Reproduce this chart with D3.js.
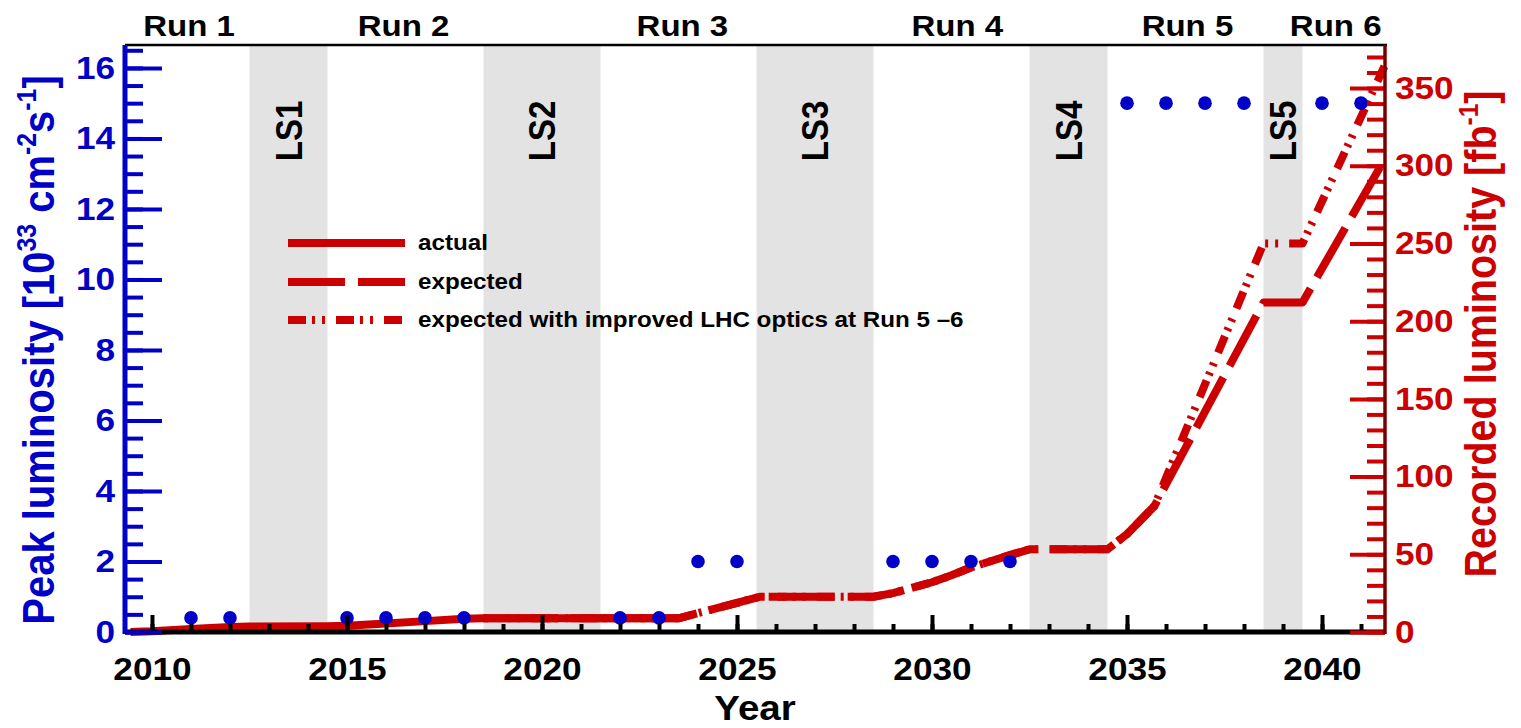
<!DOCTYPE html>
<html>
<head>
<meta charset="utf-8">
<script src="https://cdn.jsdelivr.net/npm/d3@7"></script>
<style>
  html, body { margin: 0; padding: 0; background: #fff; }
  svg text { font-family: "Liberation Sans", Arial, Helvetica, sans-serif; font-weight: bold; }
</style>
</head>
<body>
<svg id="chart" width="1521" height="728"></svg>
<script>
// ---- data ----
const runNames   = ["Run 1", "Run 2", "Run 3", "Run 4", "Run 5", "Run 6"];
const runCenters = [2010.95, 2016.45, 2023.6, 2030.65, 2036.55, 2040.35];

const shutdownNames = ["LS1", "LS2", "LS3", "LS4", "LS5"];
const shutdownStart = [2012.5, 2018.5, 2025.5, 2032.5, 2038.5];
const shutdownEnd   = [2014.5, 2021.5, 2028.5, 2034.5, 2039.5];

// peak instantaneous luminosity per year [10^33 cm^-2 s^-1]
const peakYears = [2011, 2012, 2015, 2016, 2017, 2018, 2022, 2023, 2024, 2025,
                   2029, 2030, 2031, 2032, 2035, 2036, 2037, 2038, 2040, 2041];
const peakLumi  = [0.4, 0.4, 0.4, 0.4, 0.4, 0.4, 0.4, 0.4, 2, 2,
                   2, 2, 2, 2, 15, 15, 15, 15, 15, 15];

// integrated recorded luminosity [fb^-1]
const actualYears = [2009.45, 2010, 2011, 2012, 2012.5, 2014.5, 2015, 2016, 2017, 2018, 2018.5, 2023.5];
const actualLumi  = [0, 0.5, 2.0, 3.2, 3.5, 3.7, 4.0, 5.5, 7.0, 8.5, 8.8, 8.8];

const expectedYears = [2018.5, 2023.5, 2025.6, 2028.5, 2029, 2029.5, 2030, 2030.5, 2031, 2031.5, 2032, 2032.5,
                       2034.5, 2035, 2035.7, 2038.5, 2039.5, 2041.6];
const expectedLumi  = [8.8, 8.8, 22.7, 22.7, 25, 28.5, 32, 36.5, 41.5, 45.5, 49.5, 53.2,
                       53.2, 63, 81, 212, 212, 304];

const improvedYears = [2018.5, 2023.5, 2025.6, 2028.5, 2029, 2029.5, 2030, 2030.5, 2031, 2031.5, 2032, 2032.5,
                       2034.5, 2035, 2035.7, 2038.5, 2039.5, 2041.6];
const improvedLumi  = [8.8, 8.8, 22.7, 22.7, 25, 28.5, 32, 36.5, 41.5, 45.5, 49.5, 53.2,
                       53.2, 63, 81, 250, 250, 364];

const legendLabels = ["actual", "expected", "expected with improved LHC optics at Run 5 \u20136"];

const yearMajorTicks = d3.range(2010, 2041, 5);
const yearMinorTicks = d3.range(2010, 2042, 1);
const peakMajorTicks = d3.range(0, 16.01, 2);
const peakMinorTicks = d3.range(0, 16.51, 0.5);
const recMajorTicks  = d3.range(0, 351, 50);
const recMinorTicks  = d3.range(0, 371, 10);

// ---- layout ----
const plotL = 125, plotR = 1385, plotT = 45, plotB = 632;
const SX = 1.1;               // horizontal stretch applied to all lettering
const BLUE = "#0000c8", RED = "#cc0000", DARKRED = "#7a0000", BAND = "#e3e3e3";

const svg = d3.select("#chart");

const x  = d3.scaleLinear().domain([2009.308, 2041.615]).range([plotL, plotR]);
const yL = d3.scaleLinear().domain([0, 16.65]).range([plotB, plotT]);
const yR = d3.scaleLinear().domain([0, 377.7]).range([plotB, plotT]);

const zip = (a, b) => a.map((v, i) => [v, b[i]]);

// long shutdown bands
const shutdowns = shutdownNames.map((n, i) => ({ name: n, s: shutdownStart[i], e: shutdownEnd[i] }));
svg.append("g").selectAll("rect").data(shutdowns).join("rect")
  .attr("x", d => x(d.s)).attr("y", plotT)
  .attr("width", d => x(d.e) - x(d.s)).attr("height", plotB - plotT)
  .attr("fill", BAND);

svg.append("g").selectAll("text").data(shutdowns).join("text")
  .attr("transform", d => `translate(${(x(d.s) + x(d.e)) / 2},131) scale(${SX},1) rotate(-90)`)
  .attr("text-anchor", "middle").attr("dy", "0.36em")
  .attr("font-size", 33).attr("fill", "#000")
  .text(d => d.name);

// top frame line
svg.append("line")
  .attr("x1", plotL).attr("x2", plotR + 2).attr("y1", plotT).attr("y2", plotT)
  .attr("stroke", "#000").attr("stroke-width", 2.5);

// run labels
svg.append("g").selectAll("text").data(runNames).join("text")
  .attr("transform", (d, i) => `translate(${x(runCenters[i])},36) scale(${SX},1)`)
  .attr("text-anchor", "middle").attr("font-size", 30).attr("fill", "#000")
  .text(d => d);

// recorded luminosity curves
const line = d3.line().x(d => x(d[0])).y(d => yR(d[1]));
const styles = [
  { dash: null, offset: 0 },
  { dash: "57,13", offset: 53 },
  { dash: "18,6,3,7,3,11", offset: 0 }
];
const curves = [zip(actualYears, actualLumi), zip(expectedYears, expectedLumi), zip(improvedYears, improvedLumi)];

svg.append("g").selectAll("path").data(curves).join("path")
  .attr("d", line)
  .attr("fill", "none").attr("stroke", RED).attr("stroke-width", 8)
  .attr("stroke-linejoin", "round")
  .attr("stroke-dasharray", (d, i) => styles[i].dash)
  .attr("stroke-dashoffset", (d, i) => styles[i].offset);

// legend
const legendY = [243, 282, 320];
const lg = svg.append("g");
legendLabels.forEach((lab, i) => {
  lg.append("line")
    .attr("x1", 288).attr("x2", 405).attr("y1", legendY[i]).attr("y2", legendY[i])
    .attr("stroke", RED).attr("stroke-width", 8)
    .attr("stroke-dasharray", styles[i].dash);
  lg.append("text")
    .attr("transform", `translate(418,${legendY[i] + 7}) scale(${SX},1)`)
    .attr("font-size", 22).attr("fill", "#000")
    .text(lab);
});

// peak luminosity points
svg.append("g").selectAll("circle").data(zip(peakYears, peakLumi)).join("circle")
  .attr("cx", d => x(d[0])).attr("cy", d => yL(d[1])).attr("r", 6.8)
  .attr("fill", BLUE);

// ---- axes ----
function styleAxis(g, color, tickW) {
  g.selectAll(".tick line").attr("stroke", color).attr("stroke-width", tickW);
  g.select(".domain").remove();
  g.selectAll("text").attr("fill", color).attr("font-size", 32).attr("transform", `scale(${SX},1)`);
}

// x axis (year)
svg.append("line").attr("x1", plotL).attr("x2", plotR).attr("y1", plotB).attr("y2", plotB)
  .attr("stroke", "#000").attr("stroke-width", 5);
svg.append("g").attr("transform", `translate(0,${plotB})`)
  .call(d3.axisBottom(x).tickValues(yearMinorTicks).tickSize(-8).tickSizeOuter(0).tickFormat(""))
  .call(g => styleAxis(g, "#000", 4));
svg.append("g").attr("transform", `translate(0,${plotB})`)
  .call(d3.axisBottom(x).tickValues(yearMajorTicks).tickSize(-17).tickSizeOuter(0)
        .tickPadding(25).tickFormat(d3.format("d")))
  .call(g => styleAxis(g, "#000", 4));

// left axis (peak luminosity)
svg.append("g").attr("transform", `translate(${plotL},0)`)
  .call(d3.axisLeft(yL).tickValues(peakMinorTicks).tickSize(-18).tickSizeOuter(0).tickFormat(""))
  .call(g => styleAxis(g, BLUE, 4));
svg.append("g").attr("transform", `translate(${plotL},0)`)
  .call(d3.axisLeft(yL).tickValues(peakMajorTicks).tickSize(-37).tickSizeOuter(0)
        .tickPadding(9).tickFormat(d3.format("d")))
  .call(g => styleAxis(g, BLUE, 4));
svg.append("line").attr("x1", plotL).attr("x2", plotL).attr("y1", plotT).attr("y2", plotB + 2)
  .attr("stroke", BLUE).attr("stroke-width", 5);

// right axis (recorded luminosity)
svg.append("g").attr("transform", `translate(${plotR},0)`)
  .call(d3.axisRight(yR).tickValues(recMinorTicks).tickSize(-18).tickSizeOuter(0).tickFormat(""))
  .call(g => styleAxis(g, RED, 4));
svg.append("g").attr("transform", `translate(${plotR},0)`)
  .call(d3.axisRight(yR).tickValues(recMajorTicks).tickSize(-35).tickSizeOuter(0)
        .tickPadding(9).tickFormat(d3.format("d")))
  .call(g => styleAxis(g, RED, 4));
svg.append("line").attr("x1", plotR).attr("x2", plotR).attr("y1", plotT).attr("y2", plotB + 2)
  .attr("stroke", DARKRED).attr("stroke-width", 3.5);

// ---- axis titles ----
function richText(sel, parts, fs) {
  let off = 0;
  parts.forEach(([s, sup]) => {
    const t = sel.append("tspan").text(s);
    const target = sup ? -fs * 0.42 : 0;
    if (sup) t.attr("font-size", fs * 0.62);
    if (target !== off) { t.attr("dy", target - off); off = target; }
  });
}

const ttlL = svg.append("text")
  .attr("transform", `translate(54,350) scale(${SX},1) rotate(-90)`)
  .attr("text-anchor", "middle").attr("font-size", 40).attr("fill", BLUE);
richText(ttlL, [["Peak luminosity [10"], ["33", true], [" cm"], ["-2", true], ["s"], ["-1", true], ["]"]], 40);

const ttlR = svg.append("text")
  .attr("transform", `translate(1496,334) scale(${SX},1) rotate(-90)`)
  .attr("text-anchor", "middle").attr("font-size", 39.5).attr("fill", RED);
richText(ttlR, [["Recorded luminosity [fb"], ["-1", true], ["]"]], 39.5);

svg.append("text")
  .attr("transform", `translate(755,720) scale(${SX},1)`)
  .attr("text-anchor", "middle").attr("font-size", 35).attr("fill", "#000")
  .text("Year");
</script>
</body>
</html>
